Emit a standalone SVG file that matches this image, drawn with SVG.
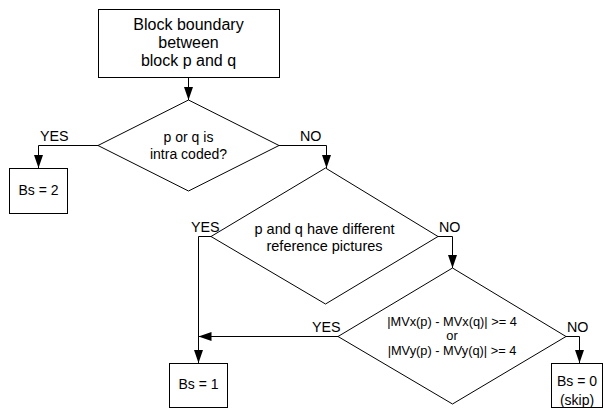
<svg xmlns="http://www.w3.org/2000/svg" width="605" height="409" viewBox="0 0 605 409">
<style>
.shape{fill:#fff;stroke:#000;stroke-width:1}
.conn{fill:none;stroke:#000;stroke-width:1}
text{font-family:"Liberation Sans",Arial,sans-serif;font-size:14px;fill:#000;text-anchor:middle}
.big{font-size:16px}
.mid{font-size:14.5px}
.small{font-size:12.8px}
.lbl{text-anchor:start;font-size:14.3px}
</style>
<defs>
<marker id="arr" markerUnits="userSpaceOnUse" markerWidth="14" markerHeight="10" refX="13" refY="4.5" orient="auto">
<path d="M0,0 L13,4.5 L0,9 z" fill="#000"/>
</marker>
</defs>
<rect width="605" height="409" fill="#fff"/>
<g id="connectors">
<path class="conn" d="M188.5,78 V100" marker-end="url(#arr)"/>
<path class="conn" d="M98,145.5 H38.5 V168" marker-end="url(#arr)"/>
<path class="conn" d="M279,145.5 H326.5 V168" marker-end="url(#arr)"/>
<path class="conn" d="M211,236.5 H198.5 V363" marker-end="url(#arr)"/>
<path class="conn" d="M438,236.5 H452.5 V268" marker-end="url(#arr)"/>
<path class="conn" d="M338,336.5 H198.5" marker-end="url(#arr)"/>
<path class="conn" d="M566,336.5 H579.5 V363" marker-end="url(#arr)"/>
<text class="lbl" x="40" y="140.5">YES</text>
<text class="lbl" x="300" y="140.5">NO</text>
<text class="lbl" x="191" y="232">YES</text>
<text class="lbl" x="439" y="232">NO</text>
<text class="lbl" x="312" y="332">YES</text>
<text class="lbl" x="567" y="332">NO</text>
</g>
<g id="start">
<rect class="shape" x="98.5" y="9.5" width="181" height="68"/>
<text class="big" x="188.5" y="29.5">Block boundary</text>
<text class="big" x="188.5" y="47.5">between</text>
<text class="big" x="188.5" y="65.5">block p and q</text>
</g>
<g id="d1">
<polygon class="shape" points="188.5,100 279,145.5 188.5,191 98,145.5"/>
<text x="188.5" y="142">p or q is</text>
<text x="188.5" y="159">intra coded?</text>
</g>
<g id="bs2">
<rect class="shape" x="9.5" y="168.5" width="58" height="45"/>
<text x="38.5" y="195">Bs = 2</text>
</g>
<g id="d2">
<polygon class="shape" points="325.5,168 438,236.5 325.5,304 211,236.5"/>
<text class="mid" x="324.5" y="234">p and q have different</text>
<text class="mid" x="324.5" y="250.5">reference pictures</text>
</g>
<g id="d3">
<polygon class="shape" points="452.5,268 566,336.5 452.5,404 338,336.5"/>
<text class="small" x="452" y="326">|MVx(p) - MVx(q)| &gt;= 4</text>
<text class="small" x="452" y="340">or</text>
<text class="small" x="452" y="355">|MVy(p) - MVy(q)| &gt;= 4</text>
</g>
<g id="bs1">
<rect class="shape" x="169.5" y="363.5" width="58" height="44"/>
<text x="198.5" y="389">Bs = 1</text>
</g>
<g id="bs0">
<rect class="shape" x="551.5" y="363.5" width="51" height="44"/>
<text x="577" y="386">Bs = 0</text>
<text x="577" y="405">(skip)</text>
</g>
</svg>
